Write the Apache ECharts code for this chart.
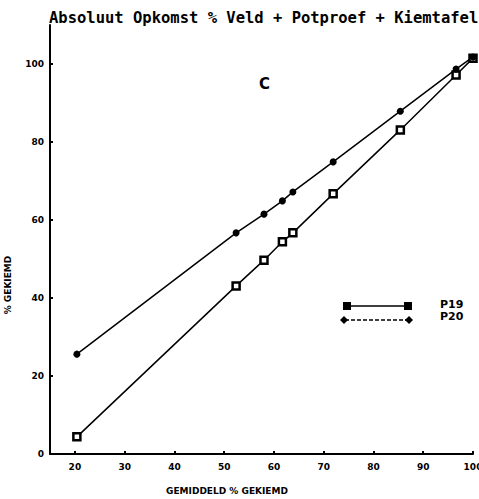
<!DOCTYPE html>
<html>
<head>
<meta charset="utf-8">
<script src="https://cdn.jsdelivr.net/npm/echarts@6/dist/echarts.min.js"></script>
<style>
  html, body { margin: 0; padding: 0; background: #fff; }
  #chart { width: 479px; height: 499px; }
</style>
</head>
<body>
<div id="chart"></div>
<script>
// Mean germination (%) per sample, shared by both series
const gemiddeld = [20.4, 52.4, 58.0, 61.7, 63.8, 71.9, 85.4, 96.6, 100.0];
// Germination (%) per series
const p19 = [4.4, 43.1, 49.7, 54.4, 56.7, 66.7, 83.1, 97.2, 101.5];
const p20 = [25.6, 56.7, 61.5, 64.9, 67.2, 74.9, 87.9, 98.7, 101.8];
const xTicks = [20, 30, 40, 50, 60, 70, 80, 90, 100];
const yTicks = [0, 20, 40, 60, 80, 100];

const pairs = (xs, ys) => xs.map((x, i) => [x, ys[i]]);

const chart = echarts.init(document.getElementById('chart'), null, { renderer: 'svg' });
const labelFont = { color: '#000', fontFamily: 'DejaVu Sans', fontWeight: 'bold', fontSize: 9 };

chart.setOption({
  animation: false,
  backgroundColor: '#fff',
  title: {
    text: 'Absoluut Opkomst % Veld + Potproef + Kiemtafel',
    left: 44, top: 5,
    textStyle: { color: '#000', fontFamily: 'DejaVu Sans Mono', fontWeight: 'bold', fontSize: 15.5 }
  },
  grid: { left: 50, right: 6, top: 25, bottom: 45, outerBoundsMode: 'none', containLabel: false },
  xAxis: {
    type: 'value', min: 15, max: 100,
    axisLine: { onZero: false, lineStyle: { color: '#000', width: 2 } },
    axisTick: { show: true, inside: true, length: 3, customValues: xTicks, lineStyle: { color: '#000', width: 2 } },
    axisLabel: Object.assign({ customValues: xTicks, margin: 8, hideOverlap: false }, labelFont),
    splitLine: { show: false }
  },
  yAxis: {
    type: 'value', min: 0, max: 110,
    axisLine: { show: true, lineStyle: { color: '#000', width: 2 } },
    axisTick: { show: true, inside: true, length: 3, customValues: yTicks, lineStyle: { color: '#000', width: 2 } },
    axisLabel: Object.assign({ customValues: yTicks, margin: 6 }, labelFont),
    splitLine: { show: false }
  },
  series: [
    {
      name: 'P19', type: 'line', data: pairs(gemiddeld, p19),
      symbol: 'rect', symbolSize: 7,
      lineStyle: { color: '#000', width: 1.5 },
      itemStyle: { color: '#fff', borderColor: '#000', borderWidth: 2.5 }
    },
    {
      name: 'P20', type: 'line', data: pairs(gemiddeld, p20),
      symbol: 'circle', symbolSize: 7,
      lineStyle: { color: '#000', width: 1.5 },
      itemStyle: { color: '#000' }
    }
  ],
  graphic: [
    { type: 'text', left: 259, top: 76, style: { text: 'C', fill: '#000', font: 'bold 15px DejaVu Sans' } },
    { type: 'text', x: 227, y: 491, style: { text: 'GEMIDDELD % GEKIEMD', fill: '#000', font: 'bold 9px DejaVu Sans', align: 'center', verticalAlign: 'middle' } },
    { type: 'text', x: 8, y: 285, rotation: Math.PI / 2, style: { text: '% GEKIEMD', fill: '#000', font: 'bold 9px DejaVu Sans', align: 'center', verticalAlign: 'middle' } },
    // legend keys
    { type: 'line', shape: { x1: 347, y1: 306, x2: 408, y2: 306 }, style: { stroke: '#000', lineWidth: 1.5 } },
    { type: 'rect', shape: { x: 343, y: 302, width: 8, height: 8 }, style: { fill: '#000' } },
    { type: 'rect', shape: { x: 404, y: 302, width: 8, height: 8 }, style: { fill: '#000' } },
    { type: 'line', shape: { x1: 345, y1: 320, x2: 410, y2: 320 }, style: { stroke: '#000', lineWidth: 1.5, lineDash: [4, 2] } },
    { type: 'polygon', shape: { points: [[340, 320], [344, 316], [348, 320], [344, 324]] }, style: { fill: '#000' } },
    { type: 'polygon', shape: { points: [[405, 320], [409, 316], [413, 320], [409, 324]] }, style: { fill: '#000' } },
    { type: 'text', x: 440, y: 304, style: { text: 'P19', fill: '#000', font: 'bold 11px DejaVu Sans', verticalAlign: 'middle' } },
    { type: 'text', x: 440, y: 316, style: { text: 'P20', fill: '#000', font: 'bold 11px DejaVu Sans', verticalAlign: 'middle' } }
  ]
});
</script>
</body>
</html>
